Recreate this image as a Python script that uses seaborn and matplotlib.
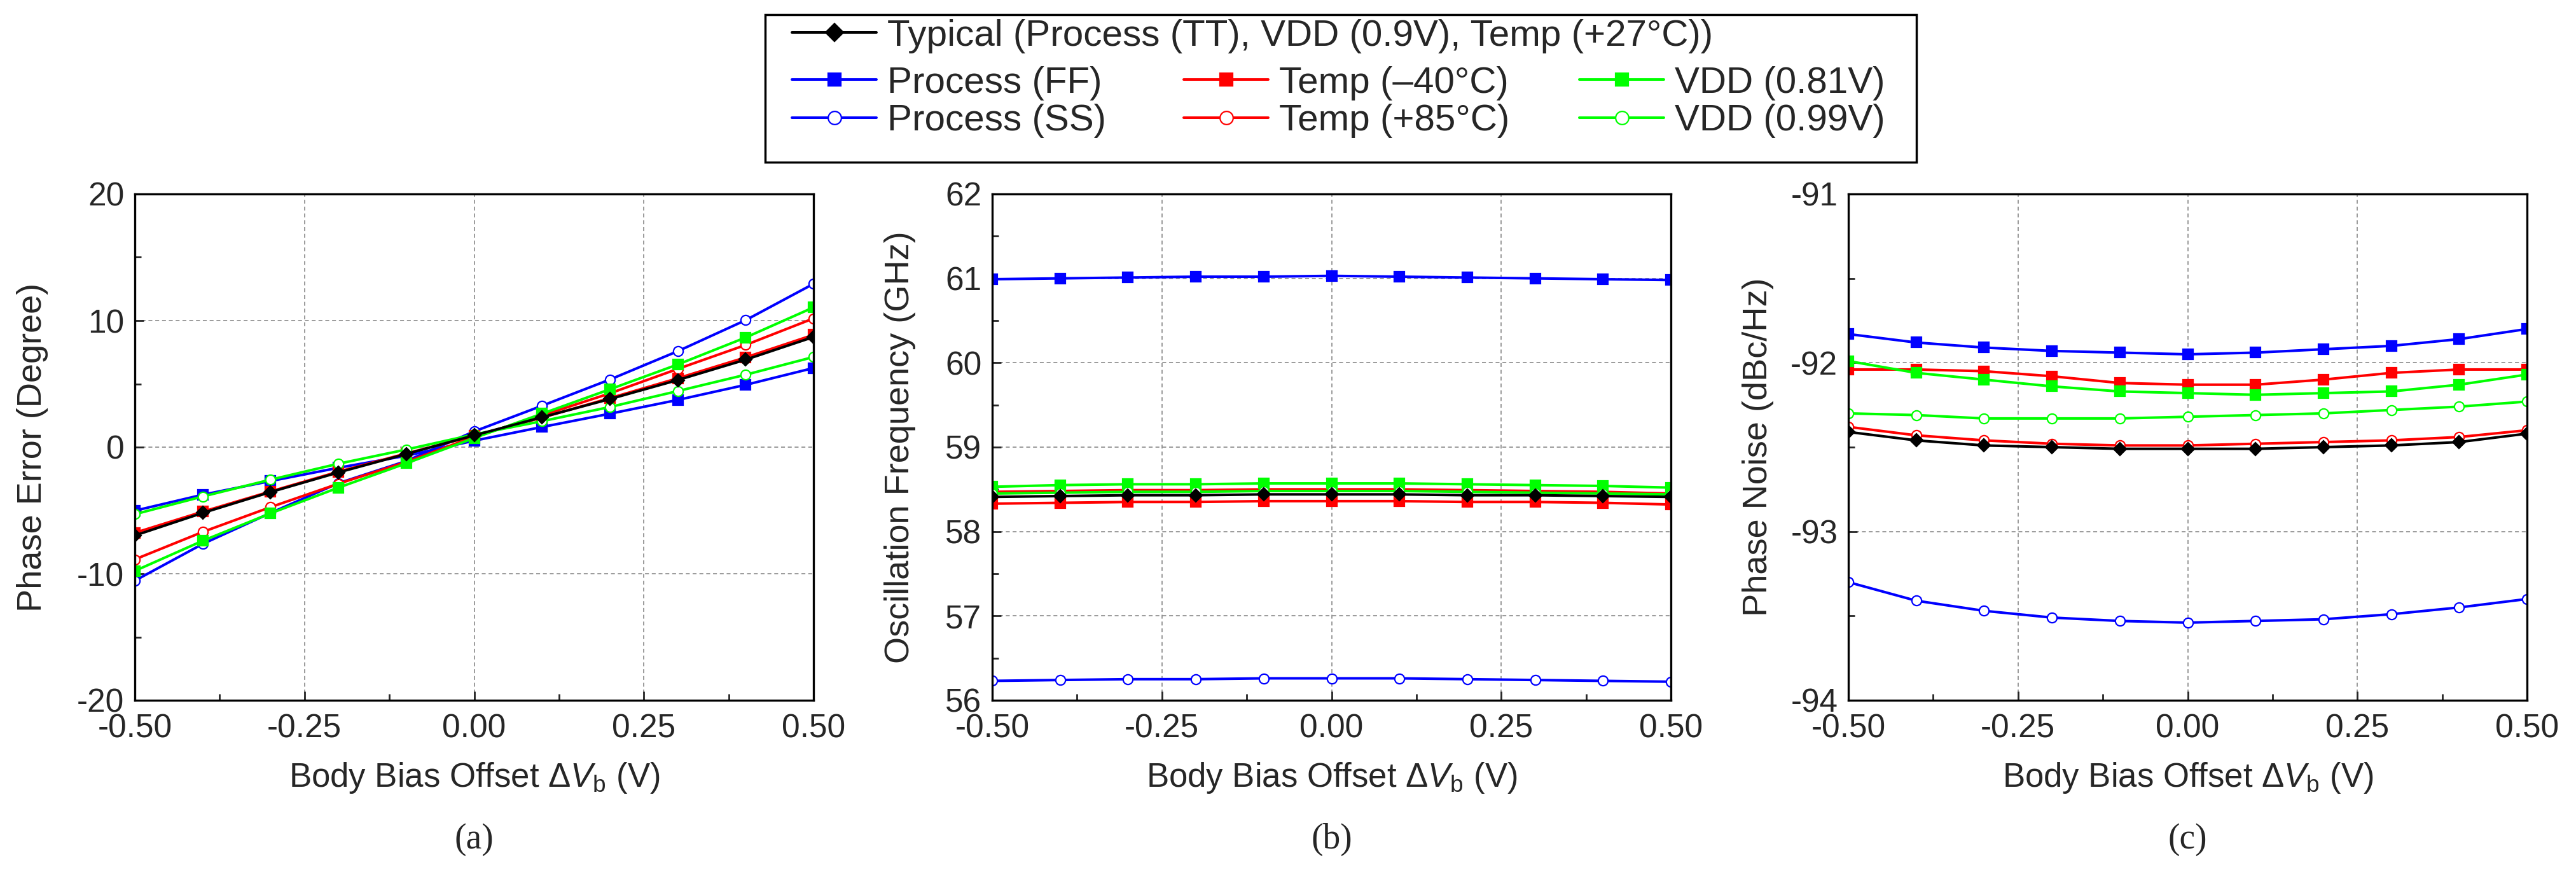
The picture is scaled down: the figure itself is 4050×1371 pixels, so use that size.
import matplotlib
matplotlib.use("Agg")
import matplotlib.pyplot as plt
from matplotlib.patches import Rectangle
from matplotlib.ticker import MultipleLocator
import seaborn as sns

# x axis: body bias offset (V)
bias_offset = [-0.5, -0.4, -0.3, -0.2, -0.1, 0.0, 0.1, 0.2, 0.3, 0.4, 0.5]

# series labels (legend order)
LBL_TYP = "Typical (Process (TT), VDD (0.9V), Temp (+27°C))"
LBL_FF = "Process (FF)"
LBL_SS = "Process (SS)"
LBL_COLD = "Temp (\u201340°C)"
LBL_HOT = "Temp (+85°C)"
LBL_VLO = "VDD (0.81V)"
LBL_VHI = "VDD (0.99V)"

# (a) phase error (degree)
err_typ = [-6.98, -5.20, -3.55, -2.00, -0.54, 0.93, 2.36, 3.80, 5.30, 6.91, 8.70]
err_ff = [-5.02, -3.76, -2.68, -1.63, -0.68, 0.51, 1.59, 2.64, 3.73, 4.92, 6.25]
err_ss = [-10.55, -7.65, -5.20, -2.85, -1.10, 1.24, 3.27, 5.34, 7.58, 10.03, 12.90]
err_cold = [-6.77, -5.10, -3.50, -1.94, -0.50, 0.90, 2.33, 3.87, 5.44, 7.09, 8.87]
err_hot = [-8.87, -6.70, -4.74, -2.89, -1.17, 0.82, 2.50, 4.25, 6.18, 8.07, 10.17]
err_vlo = [-9.78, -7.40, -5.23, -3.20, -1.28, 0.72, 2.64, 4.57, 6.53, 8.66, 11.04]
err_vhi = [-5.30, -3.90, -2.57, -1.31, -0.19, 1.00, 2.05, 3.17, 4.43, 5.72, 7.12]

# (b) oscillation frequency (GHz)
freq_typ = [58.41, 58.42, 58.43, 58.43, 58.44, 58.44, 58.44, 58.43, 58.43, 58.42, 58.41]
freq_ff = [60.99, 61.00, 61.01, 61.02, 61.02, 61.03, 61.02, 61.01, 61.00, 60.99, 60.98]
freq_ss = [56.23, 56.24, 56.25, 56.25, 56.26, 56.26, 56.26, 56.25, 56.24, 56.23, 56.22]
freq_cold = [58.33, 58.34, 58.35, 58.35, 58.36, 58.36, 58.36, 58.35, 58.35, 58.34, 58.32]
freq_hot = [58.47, 58.48, 58.49, 58.49, 58.50, 58.50, 58.50, 58.49, 58.48, 58.47, 58.45]
freq_vlo = [58.53, 58.55, 58.56, 58.56, 58.57, 58.57, 58.57, 58.56, 58.55, 58.54, 58.52]
freq_vhi = [58.45, 58.46, 58.47, 58.47, 58.48, 58.48, 58.48, 58.47, 58.46, 58.45, 58.44]

# (c) phase noise (dBc/Hz)
pn_typ = [-92.41, -92.46, -92.49, -92.50, -92.51, -92.51, -92.51, -92.50, -92.49, -92.47, -92.42]
pn_ff = [-91.83, -91.88, -91.91, -91.93, -91.94, -91.95, -91.94, -91.92, -91.90, -91.86, -91.80]
pn_ss = [-93.30, -93.41, -93.47, -93.51, -93.53, -93.54, -93.53, -93.52, -93.49, -93.45, -93.40]
pn_cold = [-92.04, -92.04, -92.05, -92.08, -92.12, -92.13, -92.13, -92.10, -92.06, -92.04, -92.04]
pn_hot = [-92.38, -92.43, -92.46, -92.48, -92.49, -92.49, -92.48, -92.47, -92.46, -92.44, -92.40]
pn_vlo = [-91.99, -92.06, -92.10, -92.14, -92.17, -92.18, -92.19, -92.18, -92.17, -92.13, -92.07]
pn_vhi = [-92.30, -92.31, -92.33, -92.33, -92.33, -92.32, -92.31, -92.30, -92.28, -92.26, -92.23]

# axis setup
x_ticks = [-0.5, -0.25, 0.0, 0.25, 0.5]
x_tick_labels = ["-0.50", "-0.25", "0.00", "0.25", "0.50"]
err_ticks = [-20, -10, 0, 10, 20]
freq_ticks = [56, 57, 58, 59, 60, 61, 62]
pn_ticks = [-94, -93, -92, -91]

BLUE, RED, GREEN, BLACK = "#0000FF", "#FF0000", "#00FF00", "#000000"
STYLES = {
    LBL_FF: (BLUE, "s", True),
    LBL_SS: (BLUE, "o", False),
    LBL_COLD: (RED, "s", True),
    LBL_HOT: (RED, "o", False),
    LBL_VLO: (GREEN, "s", True),
    LBL_VHI: (GREEN, "o", False),
    LBL_TYP: (BLACK, "D", True),
}

sns.set_style("ticks", {"xtick.direction": "in", "ytick.direction": "in"})
plt.rcParams["font.family"] = ["Liberation Sans", "DejaVu Sans"]
plt.rcParams["mathtext.fontset"] = "custom"
plt.rcParams["mathtext.rm"] = "Liberation Sans"
plt.rcParams["mathtext.it"] = "Liberation Sans:italic"
plt.rcParams["axes.unicode_minus"] = False

W, H = 4050, 1371
fig = plt.figure(figsize=(W / 100, H / 100), dpi=100)


def draw_series(ax, y, label):
    color, marker, filled = STYLES[label]
    ms = 11 if marker != "D" else 10.5
    sns.lineplot(x=bias_offset, y=y, ax=ax, color=color, lw=2.9,
                 marker=marker, markersize=ms,
                 markerfacecolor=color if filled else "white",
                 markeredgecolor=color, markeredgewidth=1.6,
                 label=label, legend=False)
    return ax.lines[-1]


def style_axes(ax, yticks, yminor, ylabel, label_x, caption):
    ax.set_xlim(-0.5, 0.5)
    ax.set_ylim(yticks[0], yticks[-1])
    ax.set_xticks(x_ticks)
    ax.set_xticklabels(x_tick_labels)
    ax.set_yticks(yticks)
    ax.set_yticklabels([str(t) for t in yticks])
    ax.xaxis.set_minor_locator(MultipleLocator(0.125))
    ax.yaxis.set_minor_locator(MultipleLocator(yminor))
    ax.tick_params(which="major", length=10, width=2, labelsize=37,
                   top=False, right=False)
    ax.tick_params(axis="x", which="major", pad=15)
    ax.tick_params(axis="y", which="major", pad=12)
    ax.tick_params(which="minor", length=7, width=2, top=False, right=False)
    ax.grid(True, which="major", color="#808080", ls=(0, (4, 3)), lw=1.1)
    ax.set_axisbelow(True)
    for sp in ax.spines.values():
        sp.set_linewidth(2.4)
        sp.set_color("black")
    ax.set_xlabel(r"Body Bias Offset $\Delta\mathit{V}_\mathrm{b}$ (V)",
                  fontsize=38, labelpad=18)
    ax.set_ylabel(ylabel, fontsize=39)
    ax.yaxis.set_label_coords(label_x, 0.5)
    pos = ax.get_position()
    fig.text(pos.x0 + pos.width / 2, 51 / H, caption, ha="center", va="center",
             fontsize=40, family=["Liberation Serif", "DejaVu Serif"])


panels = [
    (212, [err_typ, err_ff, err_ss, err_cold, err_hot, err_vlo, err_vhi],
     err_ticks, 5, "Phase Error (Degree)", -0.1275, "(a)"),
    (1560, [freq_typ, freq_ff, freq_ss, freq_cold, freq_hot, freq_vlo, freq_vhi],
     freq_ticks, 0.5, "Oscillation Frequency (GHz)", -0.1125, "(b)"),
    (2906, [pn_typ, pn_ff, pn_ss, pn_cold, pn_hot, pn_vlo, pn_vhi],
     pn_ticks, 0.5, "Phase Noise (dBc/Hz)", -0.1097, "(c)"),
]
order = [LBL_TYP, LBL_FF, LBL_SS, LBL_COLD, LBL_HOT, LBL_VLO, LBL_VHI]

handles = {}
for left, series, yticks, yminor, ylabel, label_x, caption in panels:
    ax = fig.add_axes([left / W, 270 / H, 1067 / W, 796 / H])
    # typical drawn last so it sits on top
    for label, y in list(zip(order, series))[1:] + [(order[0], series[0])]:
        line = draw_series(ax, y, label)
        handles.setdefault(label, line)
    style_axes(ax, yticks, yminor, ylabel, label_x, caption)

# legend: one wide row on top, then three columns of two
leg_kw = dict(loc="upper left", frameon=False, fontsize=42, handlelength=2.28,
              handletextpad=0.29, labelspacing=0.1, borderpad=0,
              borderaxespad=0, markerscale=1.35)
fig.legend([handles[LBL_TYP]], [LBL_TYP], bbox_to_anchor=(1245 / W, 1 - 29.5 / H), **leg_kw)
for x0, labels in [(1245, [LBL_FF, LBL_SS]), (1861, [LBL_COLD, LBL_HOT]),
                   (2483, [LBL_VLO, LBL_VHI])]:
    fig.legend([handles[l] for l in labels], labels,
               bbox_to_anchor=(x0 / W, 1 - 103.5 / H), **leg_kw)
fig.add_artist(Rectangle((1203 / W, 1 - 255 / H), 1810 / W, 232 / H,
                         transform=fig.transFigure, fill=False, lw=2.5,
                         ec="black"))

fig.savefig("out.png", dpi=100)
